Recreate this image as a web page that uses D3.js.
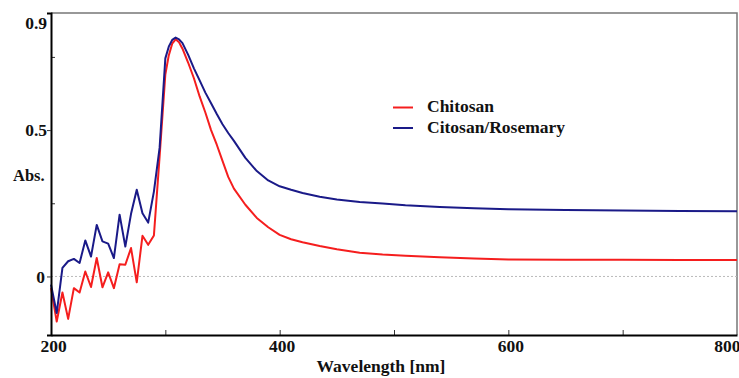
<!DOCTYPE html>
<html>
<head>
<meta charset="utf-8">
<script src="https://cdn.jsdelivr.net/npm/d3@7/dist/d3.min.js"></script>
<style>
  body { margin: 0; background: #fff; }
  text { font-family: "Liberation Serif", "Times New Roman", serif; font-weight: bold; }
</style>
</head>
<body>
<script>
const width = 739
const height = 378
const margins = { top: 13, right: 2, bottom: 43, left: 51 }

// wavelength grid (nm) and absorbance of both samples
const wavelengths = [200, 205, 210, 215, 220, 225, 230, 235, 240, 245, 250, 255, 260, 265, 270, 275, 280, 285, 290, 295,
  300, 303, 306, 309, 312, 315, 320, 325, 330, 335, 340, 345, 350, 355, 360, 370, 380, 390, 400, 410, 420, 435,
  450, 470, 490, 510, 540, 570, 600, 650, 700, 750, 800]
const chitosan = [-0.04, -0.154, -0.055, -0.145, -0.04, -0.055, 0.017, -0.036, 0.063, -0.037, 0.014, -0.04, 0.042, 0.04, 0.097, -0.02, 0.139, 0.108, 0.14, 0.41,
  0.69, 0.755, 0.795, 0.81, 0.8, 0.778, 0.73, 0.677, 0.615, 0.56, 0.5, 0.45, 0.395, 0.34, 0.3, 0.245, 0.2, 0.168, 0.142, 0.127, 0.117, 0.104,
  0.093, 0.081, 0.075, 0.071, 0.066, 0.061, 0.058, 0.057, 0.057, 0.056, 0.056]
const rosemary = [-0.028, -0.125, 0.029, 0.052, 0.06, 0.046, 0.123, 0.068, 0.176, 0.12, 0.112, 0.063, 0.211, 0.102, 0.214, 0.296, 0.216, 0.184, 0.29, 0.44,
  0.745, 0.785, 0.808, 0.816, 0.81, 0.797, 0.757, 0.711, 0.67, 0.628, 0.592, 0.555, 0.52, 0.49, 0.463, 0.405, 0.36, 0.328, 0.308, 0.296, 0.285, 0.272,
  0.263, 0.254, 0.249, 0.243, 0.237, 0.233, 0.23, 0.227, 0.225, 0.224, 0.223]

const seriesNames = ['Chitosan', 'Citosan/Rosemary']
const seriesColors = ['#f51e1e', '#1a1a88']
const xTicks = [200, 400, 600, 800]
const xMinorTicks = [300, 400, 500, 600, 700]
const yTicks = [0, 0.5, 0.9]
const yMinorTicks = [0.25, 0.75]

const svg = d3.select('body').append('svg')
  .attr('width', width)
  .attr('height', height)

const xScale = d3.scaleLinear()
  .domain([200, 800])
  .range([margins.left, width - margins.right])
const yScale = d3.scaleLinear()
  .domain([-0.2, 0.9])
  .range([height - margins.bottom, margins.top])

// top / right frame
svg.append('path')
  .attr('d', `M${margins.left},${margins.top}H${width - margins.right}V${height - margins.bottom}`)
  .attr('fill', 'none')
  .attr('stroke', '#777')
  .attr('stroke-width', 1.5)

// dotted zero line
svg.append('line')
  .attr('x1', margins.left).attr('x2', width - margins.right)
  .attr('y1', yScale(0)).attr('y2', yScale(0))
  .attr('stroke', '#bbb')
  .attr('stroke-dasharray', '2,2')

const line = d3.line()
  .x((d, i) => xScale(wavelengths[i]))
  .y(d => yScale(d))

;[chitosan, rosemary].forEach((values, i) => {
  svg.append('path')
    .attr('d', line(values))
    .attr('fill', 'none')
    .attr('stroke', seriesColors[i])
    .attr('stroke-width', 2)
    .attr('stroke-linejoin', 'round')
})

// x axis
const xMinor = svg.append('g')
  .attr('transform', `translate(0,${height - margins.bottom})`)
  .call(d3.axisBottom(xScale).tickValues(xMinorTicks).tickSize(-5).tickFormat(''))
xMinor.select('.domain').remove()
xMinor.selectAll('line').attr('stroke', '#333')

const xAxis = svg.append('g')
  .attr('transform', `translate(0,${height - margins.bottom})`)
  .call(d3.axisBottom(xScale).tickValues(xTicks).tickSize(0).tickPadding(5))
xAxis.select('.domain').attr('stroke', '#000').attr('stroke-width', 2)
xAxis.selectAll('text')
  .attr('font-size', 17.5)
  .attr('fill', '#111')
  .attr('text-anchor', d => d === 800 ? 'end' : 'middle')
  .attr('dx', d => d === 800 ? 3 : 2)

// y axis
const yMinor = svg.append('g')
  .attr('transform', `translate(${margins.left},0)`)
  .call(d3.axisLeft(yScale).tickValues(yMinorTicks).tickSize(-4).tickFormat(''))
yMinor.select('.domain').remove()
yMinor.selectAll('line').attr('stroke', '#333')

const yAxis = svg.append('g')
  .attr('transform', `translate(${margins.left},0)`)
  .call(d3.axisLeft(yScale).tickValues(yTicks).tickSize(4).tickPadding(2)
    .tickFormat(d => d === 0 ? '0' : d3.format('.1f')(d)))
yAxis.select('.domain').attr('stroke', '#000').attr('stroke-width', 2)
yAxis.selectAll('.tick line').attr('stroke', d => d === 0.9 ? 'none' : '#333')
yAxis.selectAll('text')
  .attr('font-size', 17.5)
  .attr('fill', '#111')
  .attr('dy', d => d === 0.9 ? '0.9em' : '0.32em')
  .attr('x', d => d === 0 ? -6 : -4)

svg.append('text')
  .attr('x', 13).attr('y', 181)
  .attr('font-size', 16.5)
  .attr('fill', '#111')
  .text('Abs.')

svg.append('text')
  .attr('x', 381).attr('y', 372)
  .attr('text-anchor', 'middle')
  .attr('font-size', 17.5)
  .attr('fill', '#111')
  .text('Wavelength [nm]')

// legend
const legend = svg.append('g')
seriesNames.forEach((name, i) => {
  const y = 107.5 + i * 20.5
  legend.append('line')
    .attr('x1', 393).attr('x2', 413)
    .attr('y1', y).attr('y2', y)
    .attr('stroke', seriesColors[i])
    .attr('stroke-width', 2)
  legend.append('text')
    .attr('x', 427).attr('y', y + 4.5)
    .attr('font-size', 17.5)
    .attr('fill', '#111')
    .text(name)
})
</script>
</body>
</html>
